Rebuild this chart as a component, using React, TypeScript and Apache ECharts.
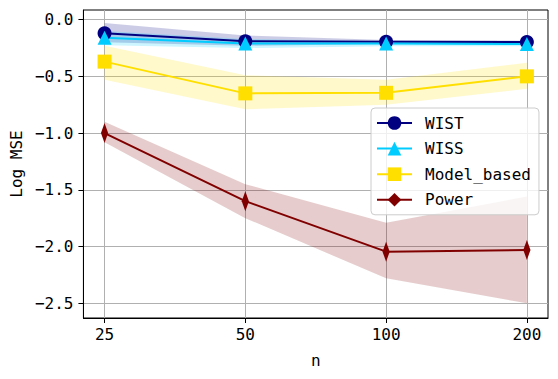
import React, { useEffect, useRef } from 'react';
import * as echarts from 'echarts';

const categories = ['25', '50', '100', '200'];
const xPositions = [0, 1, 2, 3];
const yTicks = [-2.5, -2.0, -1.5, -1.0, -0.5, 0.0];

const wist = [-0.12, -0.19, -0.195, -0.198];
const wistLow = [-0.2, -0.23, -0.215, -0.215];
const wistHigh = [-0.03, -0.14, -0.18, -0.185];

const wiss = [-0.16, -0.21, -0.21, -0.215];
const wissLow = [-0.225, -0.25, -0.235, -0.235];
const wissHigh = [-0.1, -0.17, -0.19, -0.195];

const model = [-0.37, -0.65, -0.645, -0.5];
const modelLow = [-0.53, -0.79, -0.75, -0.61];
const modelHigh = [-0.23, -0.49, -0.53, -0.38];

const power = [-1.0, -1.6, -2.045, -2.03];
const powerLow = [-1.08, -1.75, -2.28, -2.5];
const powerHigh = [-0.9, -1.45, -1.79, -1.56];

const FONT = 'DejaVu Sans Mono';

function bandSeries(name: string, low: number[], high: number[], fill: string) {
  return {
    type: 'custom',
    name: name + ' band',
    z: 1,
    silent: true,
    data: xPositions.map((x, i) => [x, low[i], high[i]]),
    encode: { x: 0, y: [1, 2] },
    renderItem: (params: any, api: any) => {
      if (params.dataIndex !== 0) return { type: 'group', children: [] };
      const pts: number[][] = [];
      for (let i = 0; i < xPositions.length; i++) pts.push(api.coord([xPositions[i], high[i]]));
      for (let i = xPositions.length - 1; i >= 0; i--) pts.push(api.coord([xPositions[i], low[i]]));
      return { type: 'polygon', shape: { points: pts }, style: { fill } };
    },
  };
}

function lineSeries(name: string, vals: number[], color: string, symbol: string, symbolSize: any, keep = false) {
  return {
    type: 'line',
    name,
    z: 3,
    data: xPositions.map((x, i) => [x, vals[i]]),
    symbol,
    symbolSize,
    symbolKeepAspect: keep,
    showAllSymbol: true,
    lineStyle: { width: 2, color },
    itemStyle: { color },
  };
}

export default function App() {
  const ref = useRef<HTMLDivElement>(null);
  useEffect(() => {
    document.body.style.margin = '0';
    const chart = echarts.init(ref.current!, null, { renderer: 'svg' });
    const cNavy = '#000080';
    const cCyan = '#00ccff';
    const cGold = '#ffdf00';
    const cMaroon = '#800000';
    chart.setOption({
      animation: false,
      backgroundColor: '#ffffff',
      textStyle: { fontFamily: FONT },
      grid: {
        left: 83,
        right: 10,
        top: 10,
        bottom: 61,
        show: true,
        borderColor: '#000',
        borderWidth: 1,
        backgroundColor: 'transparent',
      },
      legend: {
        orient: 'vertical',
        left: 371,
        top: 108,
        padding: [7, 8, 7, 5],
        itemWidth: 35,
        itemHeight: 17,
        itemGap: 9.6,
        backgroundColor: 'rgba(255,255,255,0.8)',
        borderColor: '#cccccc',
        borderWidth: 1,
        borderRadius: 4,
        data: ['WIST', 'WISS', 'Model_based', 'Power'],
        textStyle: { fontSize: 16, fontFamily: FONT, color: '#000', padding: [0, 0, 0, 8] },
      },
      xAxis: {
        type: 'value',
        min: -0.15,
        max: 3.15,
        name: 'n',
        nameLocation: 'middle',
        nameGap: 34,
        nameTextStyle: { fontSize: 16, fontFamily: FONT, color: '#000' },
        axisLine: { show: true, onZero: false, lineStyle: { color: '#000', width: 1 } },
        axisTick: { show: true, customValues: xPositions, length: 5, lineStyle: { color: '#000', width: 1 } },
        axisLabel: {
          customValues: xPositions,
          formatter: (v: number) => categories[Math.round(v)],
          color: '#000',
          fontSize: 16,
          fontFamily: FONT,
          margin: 8,
        },
        splitLine: { show: true, lineStyle: { color: '#b0b0b0', width: 1 } },
      },
      yAxis: {
        type: 'value',
        min: -2.63,
        max: 0.085,
        name: 'Log MSE',
        nameLocation: 'middle',
        nameGap: 59,
        nameTextStyle: { fontSize: 16, fontFamily: FONT, color: '#000' },
        axisLine: { show: true, onZero: false, lineStyle: { color: '#000', width: 1 } },
        axisTick: { show: true, customValues: yTicks, length: 5, lineStyle: { color: '#000', width: 1 } },
        axisLabel: {
          customValues: yTicks,
          formatter: (v: number) => (v < 0 ? '\u2212' : '') + Math.abs(v).toFixed(1),
          color: '#000',
          fontSize: 16,
          fontFamily: FONT,
          margin: 10,
        },
        splitLine: { show: true, lineStyle: { color: '#b0b0b0', width: 1 } },
      },
      series: [
        bandSeries('WIST', wistLow, wistHigh, 'rgba(0,0,128,0.2)'),
        bandSeries('WISS', wissLow, wissHigh, 'rgba(0,204,255,0.2)'),
        bandSeries('Model_based', modelLow, modelHigh, 'rgba(255,223,0,0.2)'),
        bandSeries('Power', powerLow, powerHigh, 'rgba(128,0,0,0.2)'),
        lineSeries('WIST', wist, cNavy, 'circle', 14),
        lineSeries('WISS', wiss, cCyan, 'triangle', 14),
        lineSeries('Model_based', model, cGold, 'rect', 14),
        lineSeries('Power', power, cMaroon, 'path://M6,0L12,10L6,20L0,10Z', [12, 20], true),
      ],
    });
    return () => chart.dispose();
  }, []);
  return <div ref={ref} style={{ width: 558, height: 379 }} />;
}
